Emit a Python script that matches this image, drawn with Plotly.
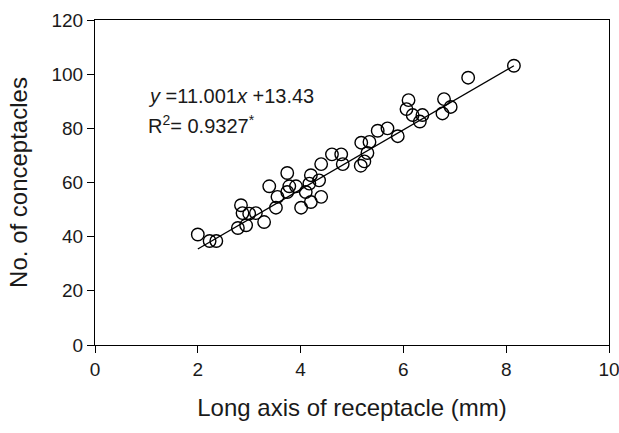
import plotly.graph_objects as go

# Long axis of receptacle (mm)
long_axis = [2.00, 2.23, 2.36, 2.78, 2.94, 2.84, 2.87, 3.00, 3.13, 3.29,
             3.39, 3.52, 3.55, 3.74, 3.78, 3.91, 3.74, 4.01, 4.10, 4.17,
             4.20, 4.36, 4.40, 4.20, 4.40, 4.61, 4.79, 4.82, 5.18, 5.24,
             5.17, 5.50, 5.69, 5.89, 5.34, 5.30, 6.10, 6.06, 6.18, 6.37,
             6.32, 6.79, 6.92, 6.76, 7.26, 8.15]
# No. of conceptacles
conceptacles = [40.8, 38.4, 38.4, 43.2, 44.2, 51.6, 48.7, 48.5, 48.7, 45.4,
                58.6, 50.7, 54.7, 63.5, 58.6, 58.6, 56.5, 50.7, 56.5, 59.6,
                62.7, 60.8, 54.7, 52.8, 66.8, 70.4, 70.4, 66.8, 74.7, 67.8,
                66.2, 79.1, 80.0, 77.1, 75.0, 70.9, 90.4, 87.1, 84.9, 84.9,
                82.5, 90.8, 87.9, 85.5, 98.7, 103.1]

slope = 11.001
intercept = 13.43
fit_x = [min(long_axis), max(long_axis)]
fit_y = [slope * v + intercept for v in fit_x]

x_ticks = [0, 2, 4, 6, 8, 10]
y_ticks = [0, 20, 40, 60, 80, 100, 120]

FONT = "Liberation Sans, Arial, sans-serif"
TXT = "#1a1a1a"

fig = go.Figure()
fig.add_trace(go.Scatter(
    x=fit_x, y=fit_y, mode="lines",
    line=dict(color="black", width=1.3), showlegend=False, hoverinfo="skip"))
fig.add_trace(go.Scatter(
    x=long_axis, y=conceptacles, mode="markers",
    marker=dict(symbol="circle-open", size=12.5, color="black",
                line=dict(color="black", width=1.4)),
    showlegend=False))

fig.add_annotation(x=1.0, y=91.8, xref="x", yref="y", xanchor="left", yanchor="middle",
                   text="<i>y</i> =11.001<i>x</i> +13.43", showarrow=False,
                   font=dict(family=FONT, size=20, color=TXT))
fig.add_annotation(x=1.0, y=81.6, xref="x", yref="y", xanchor="left", yanchor="middle",
                   text="R<sup>2</sup>= 0.9327<sup>*</sup>", showarrow=False,
                   font=dict(family=FONT, size=20, color=TXT))

axis_common = dict(showline=True, linecolor="black", linewidth=1.2, mirror=True,
                   showgrid=False, zeroline=False, ticks="outside", ticklen=7,
                   tickwidth=1.2, tickcolor="black", automargin=False,
                   tickfont=dict(family=FONT, size=19, color=TXT))

fig.update_layout(
    width=619, height=433,
    margin=dict(l=95, r=10, t=20, b=88),
    paper_bgcolor="white", plot_bgcolor="white",
    xaxis=dict(range=[0, 10], tickvals=x_ticks, ticktext=[str(v) for v in x_ticks],
               ticklabeloverflow="allow",
               title=dict(text="Long axis of receptacle (mm)", standoff=20,
                          font=dict(family=FONT, size=24, color=TXT)),
               **axis_common),
    yaxis=dict(range=[0, 120], tickvals=y_ticks, ticktext=[str(v) for v in y_ticks],
               title=dict(text="No. of conceptacles", standoff=16,
                          font=dict(family=FONT, size=24, color=TXT)),
               **axis_common),
)

# remove the browser's default 8px body margin so the figure fills the window
fig.write_html("out.html",
               config={"displayModeBar": False},
               post_script="document.body.style.margin='0';"
                           "document.body.style.overflow='hidden';")
